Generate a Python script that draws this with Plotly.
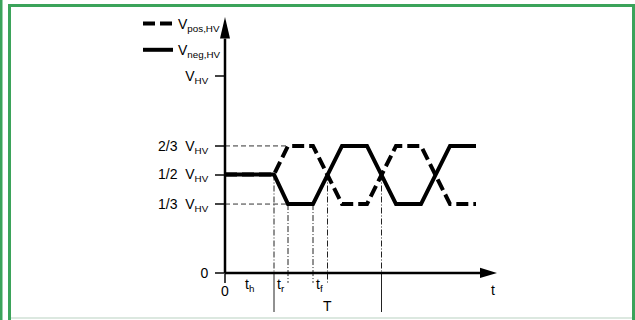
import plotly.graph_objects as go

# signal levels as drawn (fractions of V_HV)
level_vals = [0, 0.35, 0.5, 0.645, 1.0]
level_text = ["0", "1/3  V<sub>HV</sub>", "1/2  V<sub>HV</sub>", "2/3  V<sub>HV</sub>", "V<sub>HV</sub>"]

# waveform breakpoints (time units)
t_wave = [0, 4.9, 6.3, 8.8, 11.7, 14.2, 17.1, 19.6, 22.5, 25.1]
v_pos = [0.5, 0.5, 0.645, 0.645, 0.35, 0.35, 0.645, 0.645, 0.35, 0.35]
v_neg = [0.5, 0.5, 0.35, 0.35, 0.645, 0.645, 0.35, 0.35, 0.645, 0.645]

# time markers: position, level where the marker starts, reaches below axis
mark_t = [4.9, 6.3, 8.8, 10.25, 15.65]
mark_v = [0.5, 0.35, 0.35, 0.5, 0.5]
mark_long = [True, False, False, False, True]

# time labels
time_labels = ["t<sub>h</sub>", "t<sub>r</sub>", "t<sub>f</sub>", "T", "t"]
time_label_t = [2.45, 5.6, 9.4, 10.28, 26.8]
time_label_v = [-0.06, -0.06, -0.06, -0.165, -0.085]

x_range = [-22.5, 41.0]
y_range = [-0.2386, 1.3858]
x_tip, x_base = 27.2, 25.5
y_tip, y_base = 1.30, 1.19

FONT = "Liberation Sans, Arial, sans-serif"
GREEN = "#3ba35a"

fig = go.Figure()

# helper guides at 1/3 and 2/3
for lv in [0.645, 0.35]:
    fig.add_trace(go.Scatter(x=[0, 6.3], y=[lv, lv], mode="lines", showlegend=False,
                             hoverinfo="skip",
                             line=dict(color="#333", width=1, dash="5px,3px")))

# vertical time markers
for t, v, lng in zip(mark_t, mark_v, mark_long):
    low = 0 if lng else -0.05
    fig.add_trace(go.Scatter(x=[t, t], y=[v, low], mode="lines", showlegend=False,
                             hoverinfo="skip",
                             line=dict(color="#222", width=1, dash="6px,2px,1px,2px")))
    if lng:
        fig.add_trace(go.Scatter(x=[t, t], y=[0, -0.198], mode="lines", showlegend=False,
                                 hoverinfo="skip", line=dict(color="#222", width=1)))

fig.add_trace(go.Scatter(x=t_wave, y=v_pos, mode="lines", name="V<sub>pos,HV</sub>",
                         legendgroup="pos",
                         line=dict(color="black", width=4, dash="12px,5px")))
fig.add_trace(go.Scatter(x=t_wave, y=v_neg, mode="lines", name="V<sub>neg,HV</sub>",
                         legendgroup="neg",
                         line=dict(color="black", width=4)))

# axes with arrows
fig.add_shape(type="line", xref="x", yref="y", x0=0, y0=0, x1=x_base, y1=0,
              line=dict(color="black", width=2.5))
fig.add_shape(type="line", xref="x", yref="y", x0=0, y0=0, x1=0, y1=y_base,
              line=dict(color="black", width=2.5))
fig.add_shape(type="path", xref="x", yref="y",
              path=f"M {x_tip},0 L {x_base},0.026 L {x_base},-0.026 Z",
              fillcolor="black", line=dict(width=0))
fig.add_shape(type="path", xref="x", yref="y",
              path=f"M 0,{y_tip} L 0.5,{y_base} L -0.5,{y_base} Z",
              fillcolor="black", line=dict(width=0))

for txt, t, v in zip(time_labels, time_label_t, time_label_v):
    fig.add_annotation(x=t, y=v, text=txt, showarrow=False,
                       font=dict(family=FONT, size=14, color="black"))

# green frame
frame = [
    (0, 0, 2.5, 320),
    (8, 4, 11, 320),
    (8, 4, 635, 7),
    (632, 4, 635, 320),
]
for x0, y0, x1, y1 in frame:
    fig.add_shape(type="rect", xref="paper", yref="paper",
                  x0=x0 / 635, x1=x1 / 635, y0=1 - y0 / 320, y1=1 - y1 / 320,
                  fillcolor=GREEN, line=dict(width=0), layer="above")
fig.add_shape(type="rect", xref="paper", yref="paper",
              x0=11 / 635, x1=632 / 635, y0=1 - 317 / 320, y1=1 - 319 / 320,
              fillcolor="#dce8e0", line=dict(width=0))

fig.update_layout(
    width=635, height=320,
    margin=dict(l=0, r=0, t=0, b=0),
    paper_bgcolor="white", plot_bgcolor="white",
    font=dict(family=FONT, size=14, color="black"),
    xaxis=dict(range=x_range, domain=[0, 1], anchor="free", position=47 / 320,
               showgrid=False, zeroline=False, showline=False,
               tickvals=[0], ticktext=["0"], ticks="outside", ticklen=9,
               ticklabelstandoff=-4,
               tickwidth=1.5, tickcolor="#444", fixedrange=True),
    yaxis=dict(range=y_range, domain=[0, 1], anchor="free", position=225 / 635,
               showgrid=False, zeroline=False, showline=False,
               tickvals=level_vals, ticktext=level_text, ticks="outside", ticklen=10,
               ticklabelstandoff=4,
               tickwidth=1.5, tickcolor="#444", fixedrange=True),
    legend=dict(x=138 / 635, y=1 - 8 / 320, xanchor="left", yanchor="top",
                bgcolor="rgba(0,0,0,0)", font=dict(family=FONT, size=14),
                itemwidth=30, traceorder="grouped", tracegroupgap=5),
    showlegend=True,
)

fig.write_html("out.html", config={"displayModeBar": False},
               post_script="document.body.style.margin='0';document.body.style.overflow='hidden';")
